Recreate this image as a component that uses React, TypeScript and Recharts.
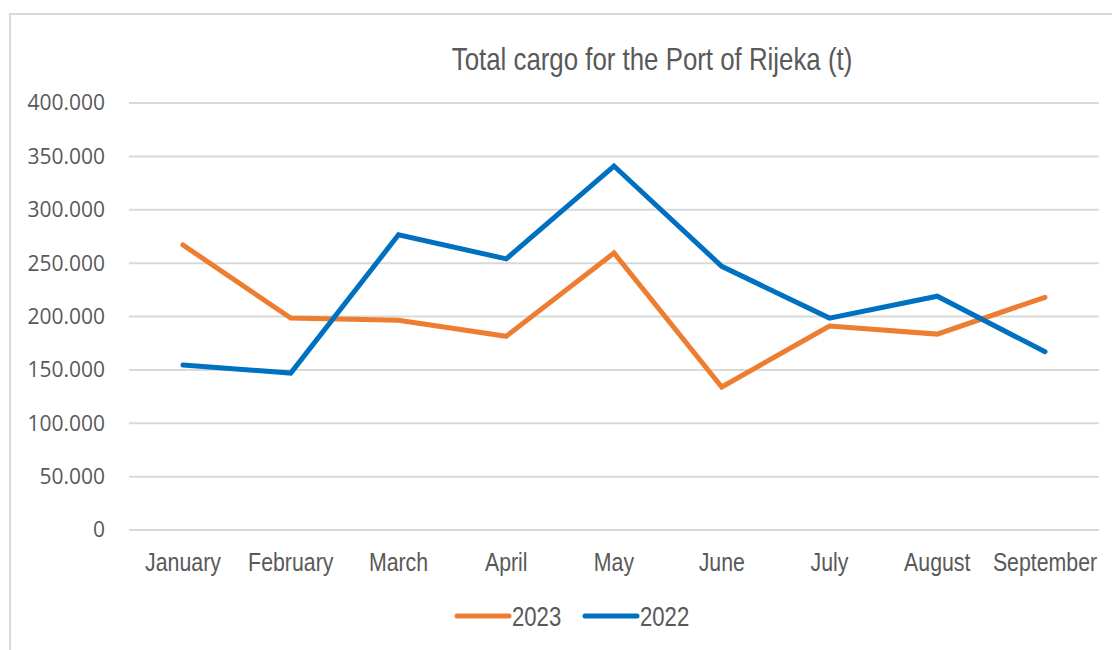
import { CartesianGrid, Line, LineChart, XAxis, YAxis } from 'recharts';

const months = ['January', 'February', 'March', 'April', 'May', 'June', 'July', 'August', 'September'];
const cargo2023 = [267000, 198500, 196500, 181500, 259500, 134000, 191000, 183500, 218000];
const cargo2022 = [154500, 147000, 276500, 254000, 341000, 247000, 198500, 219000, 167000];
const yTicks = [0, 50000, 100000, 150000, 200000, 250000, 300000, 350000, 400000];

const series = [
  { key: 'y2023', name: '2023', color: '#ED7D31' },
  { key: 'y2022', name: '2022', color: '#0070C0' },
];

const chartData = months.map((month, i) => ({
  month,
  y2023: cargo2023[i],
  y2022: cargo2022[i],
}));

const SANS = "'Liberation Sans', Arial, sans-serif";
const TEXT = '#595959';
const SQUEEZE = 0.82;

const fmt = (v: number) => (v === 0 ? '0' : v.toLocaleString('de-DE'));

function MonthTick({ x, y, payload }: any) {
  return (
    <text
      transform={`translate(${x},${y}) scale(${SQUEEZE},1)`}
      textAnchor="middle"
      dy={33}
      fill={TEXT}
      fontSize={26}
      fontFamily={SANS}
    >
      {payload.value}
    </text>
  );
}

export default function App() {
  return (
    <div style={{ position: 'absolute', left: 0, top: 0, width: 1112, height: 650, overflow: 'hidden', background: '#fff' }}>
      <div
        style={{
          position: 'absolute',
          left: 9,
          top: 13,
          width: 1300,
          height: 800,
          border: '2px solid #d9d9d9',
        }}
      />
      <div
        style={{
          position: 'absolute',
          left: 252,
          top: 41,
          width: 800,
          textAlign: 'center',
          fontFamily: SANS,
          fontSize: 31.5,
          color: TEXT,
          whiteSpace: 'nowrap',
          transform: `scaleX(${SQUEEZE})`,
        }}
      >
        Total cargo for the Port of Rijeka (t)
      </div>
      <div style={{ position: 'absolute', left: 0, top: 0 }}>
        <LineChart width={1112} height={650} data={chartData} margin={{ top: 103, right: 13, bottom: 0, left: 0 }}>
          <CartesianGrid vertical={false} stroke="#d9d9d9" strokeWidth={2} />
          <XAxis
            dataKey="month"
            axisLine={false}
            tickLine={false}
            padding={{ left: 54, right: 54 }}
            tick={<MonthTick />}
            height={120}
            interval={0}
          />
          <YAxis
            width={129}
            domain={[0, 400000]}
            ticks={yTicks}
            axisLine={false}
            tickLine={false}
            tickFormatter={fmt}
            tickMargin={18}
            tick={{ fill: TEXT, fontSize: 21, fontFamily: "'Open Sans', sans-serif" }}
          />
          {series.map((s) => (
            <Line
              key={s.key}
              type="linear"
              dataKey={s.key}
              name={s.name}
              stroke={s.color}
              strokeWidth={5}
              dot={false}
              strokeLinecap="round"
              isAnimationActive={false}
            />
          ))}
        </LineChart>
      </div>
      <div
        style={{
          position: 'absolute',
          left: 0,
          top: 598,
          width: 1112,
          display: 'flex',
          justifyContent: 'center',
          gap: 18,
          paddingLeft: 34,
          boxSizing: 'border-box',
        }}
      >
        {series.map((s) => (
          <div key={s.key} style={{ display: 'flex', alignItems: 'center' }}>
            <svg width={58} height={10}>
              <line x1={3} y1={5} x2={55} y2={5} stroke={s.color} strokeWidth={5} strokeLinecap="round" />
            </svg>
            <svg width={52} height={36}>
              <text
                transform={`translate(0,28) scale(${SQUEEZE},1)`}
                fill={TEXT}
                fontSize={27}
                fontFamily={SANS}
              >
                {s.name}
              </text>
            </svg>
          </div>
        ))}
      </div>
    </div>
  );
}
